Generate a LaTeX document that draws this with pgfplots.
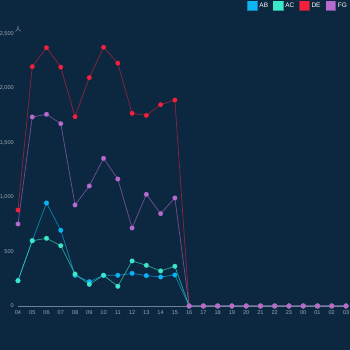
\documentclass[border=0pt]{standalone}
\usepackage{pgfplots}
\pgfplotsset{compat=1.18}
\usepackage{fontspec}
\setmainfont{Liberation Sans}
\newfontfamily\cjk{Noto Sans CJK SC}
\definecolor{bg}{HTML}{0C2840}
\definecolor{cAB}{HTML}{0DB4F5}
\definecolor{cAC}{HTML}{3DE8C8}
\definecolor{cDE}{HTML}{F5213B}
\definecolor{cFG}{HTML}{B76BD0}
\definecolor{tl}{HTML}{9AA6B2}
\begin{document}
\begin{tikzpicture}
\useasboundingbox (0,0) rectangle (350pt,350pt);
\fill[bg] (0,0) rectangle (350pt,350pt);
\begin{scope}
\clip (0,0) rectangle (350pt,350pt);
\begin{axis}[
  at={(18pt,44pt)}, anchor=south west,
  scale only axis, width=328pt, height=272pt,
  xmin=0, xmax=23, ymin=0, ymax=2500,
  clip=false,
  axis x line*=bottom, axis y line*=left,
  x axis line style={draw=tl!70!bg, line width=0.5pt},
  y axis line style={draw=none},
  major tick length=0pt,
  xtick={0,...,23},
  xticklabels={04,05,06,07,08,09,10,11,12,13,14,15,16,17,18,19,20,21,22,23,00,01,02,03},
  ytick={0,500,1000,1500,2000,2500},
  yticklabels={0,500,{1,000},{1,500},{2,000},{2,500}},
  tick label style={font=\fontsize{5.6}{6}\selectfont, text=tl},
  xticklabel style={yshift=-1pt},
  yticklabel style={inner sep=0pt, xshift=-4pt},
  legend style={at={(1,1)}, anchor=south east, xshift=3pt, yshift=23pt,
    draw=none, fill=none, text=white, font=\fontsize{6.5}{7}\selectfont,
    legend columns=-1, inner sep=0pt,
    /tikz/every even column/.append style={column sep=3pt}},
  legend cell align=left,
]
\addplot[cAB, draw opacity=0.65, line width=0.7pt, mark=*, mark size=2.2pt, mark options={draw=none, fill=cAB, fill opacity=1},
  legend image code/.code={\fill[cAB] (0pt,-4.5pt) rectangle (9.5pt,4.5pt);}]
  coordinates {(0,233)(1,600)(2,947)(3,696)(4,282)(5,224)(6,282)(7,282)(8,300)(9,279)(10,267)(11,285)(12,0)(13,0)(14,0)(15,0)(16,0)(17,0)(18,0)(19,0)(20,0)(21,0)(22,0)(23,0)};
\addlegendentry{AB}
\addplot[cAC, draw opacity=0.65, line width=0.7pt, mark=*, mark size=2.2pt, mark options={draw=none, fill=cAC, fill opacity=1},
  legend image code/.code={\fill[cAC] (0pt,-4.5pt) rectangle (9.5pt,4.5pt);}]
  coordinates {(0,233)(1,600)(2,622)(3,554)(4,294)(5,199)(6,282)(7,181)(8,414)(9,374)(10,322)(11,365)(12,0)(13,0)(14,0)(15,0)(16,0)(17,0)(18,0)(19,0)(20,0)(21,0)(22,0)(23,0)};
\addlegendentry{AC}
\addplot[cDE, draw opacity=0.55, line width=0.7pt, mark=*, mark size=2.2pt, mark options={draw=none, fill=cDE, fill opacity=1},
  legend image code/.code={\fill[cDE] (0pt,-4.5pt) rectangle (9.5pt,4.5pt);}]
  coordinates {(0,882)(1,2200)(2,2374)(3,2195)(4,1740)(5,2099)(6,2378)(7,2232)(8,1771)(9,1752)(10,1850)(11,1893)(12,0)(13,0)(14,0)(15,0)(16,0)(17,0)(18,0)(19,0)(20,0)(21,0)(22,0)(23,0)};
\addlegendentry{DE}
\addplot[cFG, draw opacity=0.6, line width=0.7pt, mark=*, mark size=2.2pt, mark options={draw=none, fill=cFG, fill opacity=1},
  legend image code/.code={\fill[cFG] (0pt,-4.5pt) rectangle (9.5pt,4.5pt);}]
  coordinates {(0,754)(1,1737)(2,1762)(3,1676)(4,928)(5,1103)(6,1357)(7,1167)(8,717)(9,1026)(10,849)(11,993)(12,0)(13,0)(14,0)(15,0)(16,0)(17,0)(18,0)(19,0)(20,0)(21,0)(22,0)(23,0)};
\addlegendentry{FG}
\node[anchor=south west, text=tl, font=\cjk\fontsize{6}{6}\selectfont, inner sep=0pt] at ([xshift=-3pt,yshift=2pt]rel axis cs:0,1) {人};
\end{axis}
\end{scope}
\end{tikzpicture}
\end{document}
